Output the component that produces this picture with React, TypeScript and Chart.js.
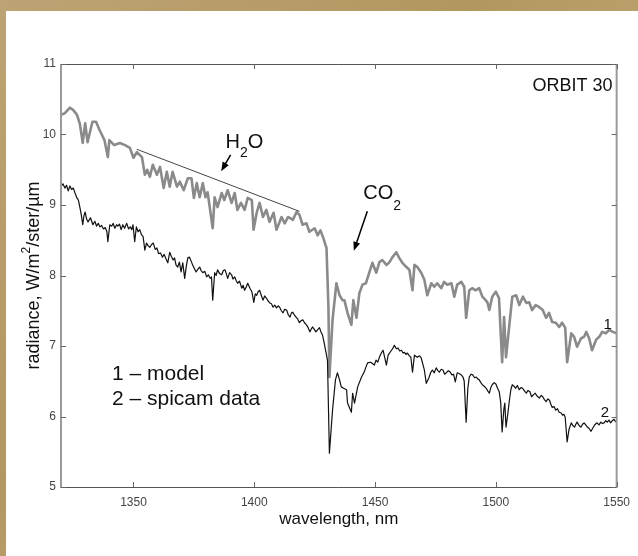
import React, { useEffect, useRef } from "react";
import { Chart, registerables } from "chart.js";

Chart.register(...registerables);

// ---------- data ----------
const X_MIN = 1320;
const X_MAX = 1550;
const Y_MIN = 5;
const Y_MAX = 11;
const X_TICKS = [1350, 1400, 1450, 1500, 1550];
const Y_TICKS = [5, 6, 7, 8, 9, 10, 11];

// curve 1 – model
const MODEL_WL = [
  1320, 1321.5, 1323.7, 1325, 1326.6, 1327.8, 1329, 1330, 1331, 1333, 1334.5, 1336, 1338, 1339.4, 1340, 1342,
  1344.4, 1346.5, 1348.5, 1350, 1351.4, 1353.5, 1354.7, 1355.7, 1356.8, 1358, 1359.7, 1361, 1362.5, 1363.8, 1365,
  1366.2, 1368, 1369.2, 1370.8, 1372.5, 1374, 1375, 1376.2, 1377.4, 1378.7, 1379.8, 1380.7, 1382.8, 1383.6, 1384.8,
  1386.5, 1387.6, 1389, 1390.6, 1391.9, 1393, 1394.5, 1396, 1397.3, 1399, 1399.7, 1401, 1402.2, 1403.6, 1405, 1406.3,
  1408, 1409.2, 1411.3, 1412.6, 1414, 1416, 1417.5, 1418.7, 1420, 1421.6, 1422.8, 1425, 1426.2, 1427.4, 1428.6,
  1429.5, 1429.9, 1430.7, 1431.1, 1432.4, 1434, 1435.3, 1436.5, 1437.3, 1438.6, 1440.2, 1441, 1442.3, 1443.5,
  1444.8, 1446.2, 1447.6, 1448.9, 1450.5, 1451.8, 1453, 1454.7, 1456, 1457.2, 1458.8, 1460, 1461.3, 1463, 1464.2,
  1465.5, 1466.3, 1467.5, 1469.1, 1470.4, 1471.6, 1473.3, 1474.5, 1475.7, 1477.4, 1478.6, 1479.9, 1481.6, 1482.8,
  1484, 1485.7, 1486.9, 1487.7, 1489, 1490.2, 1491.6, 1493.1, 1494.4, 1495.5, 1496.5, 1497.3, 1498.5, 1500, 1501.3,
  1502.6, 1503.4, 1504.2, 1505.5, 1506.8, 1508.4, 1509.7, 1511.2, 1512.6, 1513.8, 1515, 1516.5, 1518, 1519.4,
  1520.8, 1522, 1523.3, 1524.8, 1526.2, 1527.4, 1528.7, 1529.5, 1531.2, 1532.4, 1533.6, 1535.3, 1536.5, 1537.4,
  1538.6, 1539.8, 1541.5, 1542.8, 1544, 1545.5, 1546.9, 1548.4, 1550,
];
const MODEL_RAD = [
  10.28, 10.3, 10.38, 10.35, 10.28, 10.15, 9.88, 10.16, 9.89, 10.18, 10.18, 10.06, 9.92, 9.68, 9.92, 9.85,
  9.88, 9.85, 9.81, 9.67, 9.75, 9.68, 9.43, 9.5, 9.4, 9.57, 9.43, 9.54, 9.24, 9.47, 9.26,
  9.47, 9.26, 9.33, 9.21, 9.38, 9.38, 9.1, 9.31, 9.11, 9.31, 9.11, 9.18, 8.67, 9.11, 8.97,
  9.17, 9.07, 9.21, 9.03, 9.17, 8.93, 9.03, 8.93, 9.1, 9.07, 8.65, 8.89, 9.03, 8.83, 8.93, 8.76,
  8.89, 8.65, 8.83, 8.74, 8.83, 8.79, 8.9, 8.86, 8.72, 8.74, 8.62, 8.67, 8.57, 8.64, 8.53,
  8.43, 8.39, 7.55, 6.56, 7.37, 7.89, 7.72, 7.65, 7.65, 7.47, 7.3, 7.65, 7.4, 7.75,
  7.87, 7.89, 8.04, 8.18, 8.04, 8.19, 8.22, 8.15, 8.19, 8.26, 8.33, 8.25, 8.18, 8.12, 8.08,
  7.79, 8.15, 8.12, 8.04, 7.94, 7.72, 7.89, 7.84, 7.89, 7.82, 7.91, 7.87, 7.89, 7.7,
  7.87, 7.91, 7.84, 7.4, 7.79, 7.82, 7.79, 7.82, 7.7, 7.66, 7.62, 7.51, 7.7, 7.77, 7.68,
  6.77, 7.41, 6.84, 7.27, 7.7, 7.72, 7.58, 7.7, 7.61, 7.62, 7.51, 7.58, 7.55, 7.51,
  7.4, 7.47, 7.34, 7.33, 7.27, 7.33, 7.26, 6.77, 7.18, 7.13, 6.99, 7.11, 7.13, 7.2,
  7.11, 6.94, 7.09, 7.13, 7.2, 7.18, 7.23, 7.2, 7.18,
];

// curve 2 – spicam data
const DATA_WL = [
  1320, 1320.8, 1321.6, 1322.3, 1323, 1323.7, 1324.4, 1325.1, 1325.8, 1326.6, 1327.2, 1327.8, 1328.4, 1329, 1329.5,
  1330, 1330.6, 1331.2, 1332.2, 1333.2, 1334, 1334.7, 1335.4, 1336.1, 1336.8, 1337.6, 1338.3, 1339, 1339.4, 1340.2,
  1341, 1341.6, 1342.3, 1343, 1343.5, 1344.2, 1344.9, 1345.6, 1346.3, 1347.2, 1348, 1348.7, 1349.3, 1349.8, 1350.5,
  1351.2, 1351.9, 1352.6, 1353.3, 1354, 1354.7, 1355.4, 1356.1, 1356.8, 1357.5, 1358.2, 1359, 1359.7, 1360.4, 1361.2,
  1362, 1362.7, 1363.4, 1364.2, 1365, 1365.7, 1366.4, 1367, 1367.6, 1368.3, 1369, 1369.7, 1370.4, 1371.2, 1371.9,
  1372.5, 1373.2, 1373.9, 1374.5, 1375.2, 1375.9, 1376.7, 1377.4, 1378, 1378.7, 1379.5, 1380.3, 1381, 1381.7, 1382.3,
  1382.8, 1383.6, 1384.2, 1384.8, 1385.6, 1386.5, 1387.2, 1387.9, 1388.5, 1389, 1389.8, 1390.6, 1391.2, 1391.9,
  1392.5, 1393.1, 1393.9, 1394.8, 1395.4, 1396, 1396.7, 1397.3, 1398.2, 1399, 1399.8, 1400.4, 1401, 1401.6, 1402.2,
  1402.9, 1403.6, 1404.3, 1405, 1405.7, 1406.4, 1407.1, 1407.8, 1408.5, 1409.2, 1409.9, 1410.5, 1411.2, 1411.9,
  1412.6, 1413.4, 1414.1, 1414.8, 1415.4, 1415.9, 1416.6, 1417.3, 1418, 1418.7, 1419.4, 1420.1, 1420.8, 1421.6,
  1422.3, 1423, 1423.6, 1424.1, 1424.8, 1425.5, 1426.2, 1427, 1427.6, 1428.2, 1428.9, 1429.5, 1430.3, 1431.1,
  1432.4, 1433.6, 1434.4, 1435.3, 1436, 1437, 1438.2, 1438.6, 1440.2, 1440.7, 1441.5, 1442.8, 1444.4, 1445.5,
  1446.2, 1446.9, 1448.2, 1449.7, 1450.4, 1451.1, 1451.9, 1452.6, 1453.3, 1454.7, 1455.4, 1456.8, 1457.4, 1458,
  1458.8, 1459.5, 1460.2, 1460.9, 1461.6, 1462.2, 1462.8, 1463.4, 1464.2, 1464.8, 1465.5, 1466.3, 1467.5, 1468.4,
  1469.1, 1469.8, 1470.4, 1471.2, 1472.3, 1473, 1473.7, 1474.5, 1475.3, 1476, 1476.6, 1477.4, 1478.1, 1478.8,
  1479.5, 1480.3, 1481.1, 1481.8, 1482.5, 1483.2, 1484, 1484.8, 1485.7, 1486.4, 1486.9, 1487.7, 1488.4, 1489,
  1489.7, 1490.4, 1491.2, 1491.9, 1492.6, 1493.1, 1493.8, 1494.4, 1495.2, 1496, 1496.7, 1497.3, 1497.9, 1498.5,
  1499.3, 1500, 1500.7, 1501.4, 1502, 1502.6, 1503.3, 1503.7, 1504.2, 1505, 1505.6, 1506.2, 1506.8, 1507.5, 1508.2,
  1508.9, 1509.7, 1510.4, 1511.1, 1511.9, 1512.6, 1513.3, 1514.1, 1514.8, 1515.6, 1516.3, 1517.1, 1518, 1518.8,
  1519.4, 1520.1, 1520.8, 1521.5, 1522.2, 1522.8, 1523.3, 1524.1, 1524.8, 1525.5, 1526.2, 1527, 1527.6, 1528.2,
  1528.7, 1529.5, 1530.3, 1531.2, 1531.9, 1532.6, 1533.1, 1533.6, 1534.5, 1535.2, 1535.9, 1536.5, 1537.2, 1537.9,
  1538.6, 1539.4, 1540.2, 1540.9, 1541.5, 1541.9, 1542.7, 1543.4, 1544.1, 1544.8, 1545.5, 1546.1, 1546.8, 1547.5,
  1548.2, 1548.9, 1549.5, 1550,
];
const DATA_RAD = [
  9.26, 9.3, 9.24, 9.28, 9.2, 9.27, 9.22, 9.24, 9.17, 9.1, 9.07, 8.97, 8.86, 8.72, 8.85,
  8.9, 8.8, 8.76, 8.82, 8.72, 8.77, 8.7, 8.74, 8.69, 8.71, 8.66, 8.68, 8.62, 8.48, 8.72,
  8.7, 8.74, 8.67, 8.72, 8.7, 8.73, 8.65, 8.72, 8.67, 8.74, 8.66, 8.69, 8.65, 8.72, 8.48,
  8.69, 8.62, 8.65, 8.58, 8.55, 8.36, 8.46, 8.42, 8.4, 8.44, 8.46, 8.37, 8.39, 8.31, 8.32,
  8.26, 8.3, 8.24, 8.18, 8.33, 8.27, 8.22, 8.25, 8.15, 8.12, 8.19, 8.05, 8.18, 7.96, 8.14,
  8.25, 8.26, 8.2, 8.15, 8.1, 8.05, 8.09, 8.12, 8.07, 8.04, 8.06, 7.98, 8.01, 7.96, 7.98,
  7.65, 8.04, 8.0, 8.08, 8.03, 8.01, 8.07, 8.08, 8.02, 7.96, 8.04, 8.01, 7.95, 7.98,
  7.93, 7.89, 7.92, 7.82, 7.86, 7.79, 7.84, 7.89, 7.82, 7.77, 7.62, 7.74, 7.72, 7.77, 7.79,
  7.72, 7.65, 7.71, 7.68, 7.64, 7.61, 7.6, 7.55, 7.58, 7.54, 7.57, 7.55, 7.5, 7.47,
  7.52, 7.51, 7.44, 7.41, 7.47, 7.48, 7.44, 7.41, 7.38, 7.33, 7.36, 7.37, 7.33, 7.3,
  7.26, 7.2, 7.24, 7.27, 7.24, 7.2, 7.23, 7.26, 7.2, 7.16, 7.05, 6.94, 6.8, 5.48,
  6.09, 6.52, 6.62, 6.52, 6.42, 6.4, 6.38, 6.19, 6.06, 6.33, 6.19, 6.42, 6.56, 6.63,
  6.7, 6.76, 6.77, 6.73, 6.8, 6.77, 6.85, 6.9, 6.94, 6.73, 6.87, 6.94, 6.97, 7.01,
  6.96, 6.97, 6.93, 6.94, 6.9, 6.91, 6.88, 6.9, 6.86, 6.84, 6.63, 6.87, 6.84, 6.86,
  6.83, 6.74, 6.66, 6.47, 6.55, 6.62, 6.66, 6.62, 6.69, 6.65, 6.63, 6.67, 6.66, 6.6,
  6.62, 6.65, 6.63, 6.59, 6.6, 6.49, 6.62, 6.61, 6.59, 6.56, 6.5, 5.92, 6.4, 6.56,
  6.6, 6.59, 6.55, 6.56, 6.53, 6.52, 6.48, 6.45, 6.43, 6.4, 6.36, 6.33, 6.41, 6.45,
  6.48, 6.46, 6.4, 6.35, 6.2, 5.78, 6.1, 6.19, 5.85, 6.05, 6.23, 6.38, 6.45, 6.43, 6.4,
  6.44, 6.38, 6.41, 6.4, 6.36, 6.33, 6.37, 6.35, 6.28, 6.31, 6.33, 6.29, 6.26, 6.3,
  6.28, 6.24, 6.21, 6.25, 6.23, 6.17, 6.13, 6.14, 6.09, 6.11, 6.06, 6.05, 6.02, 6.03,
  5.99, 5.64, 5.82, 5.91, 5.87, 5.85, 5.89, 5.92, 5.87, 5.85, 5.89, 5.91, 5.88, 5.85,
  5.83, 5.79, 5.84, 5.88, 5.9, 5.91, 5.88, 5.92, 5.9, 5.91, 5.94, 5.92, 5.95, 5.91,
  5.94, 5.96, 5.93, 5.92,
];

// thin reference line over the H2O band
const H2O_LINE_WL = [1351.4, 1418.7];
const H2O_LINE_RAD = [9.79, 8.91];

const X_TITLE = "wavelength, nm";
const Y_TITLE_PARTS = ["radiance, W/m", "2", "/ster/\u00b5m"];
const ORBIT_LABEL = "ORBIT 30";
const LEGEND_LINES = ["1 \u2013 model", "2 \u2013 spicam data"];

const FONT = "'Liberation Sans', Arial, Helvetica, sans-serif";

type Part = { text: string; size: number; dy?: number };

function drawRich(ctx: CanvasRenderingContext2D, parts: Part[], x: number, y: number, align: "left" | "center" | "right") {
  let total = 0;
  const widths = parts.map((p) => {
    ctx.font = `${p.size}px ${FONT}`;
    const w = ctx.measureText(p.text).width;
    total += w;
    return w;
  });
  let cx = align === "left" ? x : align === "center" ? x - total / 2 : x - total;
  ctx.textAlign = "left";
  parts.forEach((p, i) => {
    ctx.font = `${p.size}px ${FONT}`;
    ctx.fillText(p.text, cx, y + (p.dy || 0));
    cx += widths[i];
  });
}

function arrow(ctx: CanvasRenderingContext2D, x1: number, y1: number, x2: number, y2: number) {
  const ang = Math.atan2(y2 - y1, x2 - x1);
  const len = 9;
  const half = 3.5;
  ctx.save();
  ctx.strokeStyle = "#000";
  ctx.fillStyle = "#000";
  ctx.lineWidth = 1.5;
  ctx.beginPath();
  ctx.moveTo(x1, y1);
  ctx.lineTo(x2 - Math.cos(ang) * len * 0.8, y2 - Math.sin(ang) * len * 0.8);
  ctx.stroke();
  ctx.beginPath();
  ctx.moveTo(x2, y2);
  ctx.lineTo(x2 - Math.cos(ang) * len + Math.sin(ang) * half, y2 - Math.sin(ang) * len - Math.cos(ang) * half);
  ctx.lineTo(x2 - Math.cos(ang) * len - Math.sin(ang) * half, y2 - Math.sin(ang) * len + Math.cos(ang) * half);
  ctx.closePath();
  ctx.fill();
  ctx.restore();
}

const decorPlugin = {
  id: "decor",
  afterDraw(chart: any) {
    const ctx: CanvasRenderingContext2D = chart.ctx;
    const { left, right, top, bottom } = chart.chartArea;
    const xs = chart.scales.x;
    const ys = chart.scales.y;
    const X = (v: number) => xs.getPixelForValue(v);
    const Y = (v: number) => ys.getPixelForValue(v);

    ctx.save();
    // box
    ctx.lineWidth = 1;
    ctx.strokeStyle = "#555";
    ctx.beginPath();
    ctx.moveTo(left, top + 0.5);
    ctx.lineTo(right, top + 0.5);
    ctx.moveTo(left, bottom + 0.5);
    ctx.lineTo(right, bottom + 0.5);
    ctx.stroke();
    ctx.strokeStyle = "#9a9a9a";
    ctx.lineWidth = 2;
    ctx.beginPath();
    ctx.moveTo(left, top);
    ctx.lineTo(left, bottom + 1);
    ctx.moveTo(right, top);
    ctx.lineTo(right, bottom + 1);
    ctx.stroke();

    // inward ticks
    ctx.strokeStyle = "#666";
    ctx.lineWidth = 1;
    ctx.beginPath();
    X_TICKS.forEach((v) => {
      const px = Math.round(X(v)) + 0.5;
      ctx.moveTo(px, top);
      ctx.lineTo(px, top + 5);
      ctx.moveTo(px, bottom);
      ctx.lineTo(px, bottom - 5);
    });
    Y_TICKS.forEach((v) => {
      const py = Math.round(Y(v)) + 0.5;
      ctx.moveTo(left, py);
      ctx.lineTo(left + 5, py);
      ctx.moveTo(right, py);
      ctx.lineTo(right - 5, py);
    });
    ctx.stroke();

    ctx.fillStyle = "#111";
    ctx.textBaseline = "alphabetic";

    // x title
    ctx.font = `17px ${FONT}`;
    ctx.textAlign = "center";
    ctx.fillText(X_TITLE, (left + right) / 2, bottom + 37);

    // y title (rotated)
    ctx.save();
    ctx.translate(28, (top + bottom) / 2);
    ctx.rotate(-Math.PI / 2);
    ctx.textBaseline = "middle";
    drawRich(
      ctx,
      [
        { text: Y_TITLE_PARTS[0], size: 18 },
        { text: Y_TITLE_PARTS[1], size: 12, dy: -7 },
        { text: Y_TITLE_PARTS[2], size: 18 },
      ],
      0,
      0,
      "center"
    );
    ctx.restore();

    ctx.textBaseline = "alphabetic";
    // ORBIT 30
    ctx.font = `18px ${FONT}`;
    ctx.textAlign = "right";
    ctx.fillText(ORBIT_LABEL, X(1548.3), Y(10.62));

    // H2O
    drawRich(
      ctx,
      [
        { text: "H", size: 20 },
        { text: "2", size: 14, dy: 9 },
        { text: "O", size: 20 },
      ],
      X(1388.1),
      Y(9.81),
      "left"
    );
    arrow(ctx, X(1390.2), Y(9.71), X(1386.3), Y(9.48));

    // CO2
    drawRich(
      ctx,
      [
        { text: "CO", size: 20 },
        { text: "2", size: 14, dy: 11 },
      ],
      X(1445.1),
      Y(9.09),
      "left"
    );
    arrow(ctx, X(1446.8), Y(8.91), X(1441.2), Y(8.35));

    // curve labels
    ctx.font = `15px ${FONT}`;
    ctx.textAlign = "left";
    ctx.fillText("1", X(1544.6), Y(7.24));
    ctx.fillText("2", X(1543.4), Y(5.99));

    // legend text
    ctx.font = `21px ${FONT}`;
    ctx.fillText(LEGEND_LINES[0], X(1341.1), Y(6.52));
    ctx.fillText(LEGEND_LINES[1], X(1341.1), Y(6.16));

    ctx.restore();
  },
};

export default function App() {
  const ref = useRef<HTMLCanvasElement | null>(null);

  useEffect(() => {
    if (!ref.current) return;
    const chart = new Chart(ref.current, {
      type: "line",
      data: {
        datasets: [
          {
            label: "model",
            data: MODEL_WL.map((x, i) => ({ x, y: MODEL_RAD[i] })),
            borderColor: "#8a8a8a",
            borderWidth: 2.6,
            borderJoinStyle: "round",
            borderCapStyle: "round",
            pointRadius: 0,
            tension: 0,
            order: 2,
          },
          {
            label: "spicam data",
            data: DATA_WL.map((x, i) => ({ x, y: DATA_RAD[i] })),
            borderColor: "#111111",
            borderWidth: 1.2,
            borderJoinStyle: "round",
            pointRadius: 0,
            tension: 0,
            order: 1,
          },
          {
            label: "H2O continuum",
            data: H2O_LINE_WL.map((x, i) => ({ x, y: H2O_LINE_RAD[i] })),
            borderColor: "#444",
            borderWidth: 1,
            pointRadius: 0,
            order: 0,
          },
        ],
      },
      options: {
        animation: false,
        responsive: false,
        maintainAspectRatio: false,
        events: [],
        layout: { padding: { top: 53, right: 20, left: 0, bottom: 0 } },
        plugins: {
          legend: { display: false },
          tooltip: { enabled: false },
        },
        scales: {
          x: {
            type: "linear",
            min: X_MIN,
            max: X_MAX,
            afterBuildTicks: (s: any) => {
              s.ticks = X_TICKS.map((value) => ({ value }));
            },
            afterFit: (s: any) => {
              s.height = 69;
            },
            grid: { display: false, drawTicks: false },
            border: { display: false },
            ticks: {
              padding: 8,
              color: "#444",
              font: { family: FONT, size: 12 },
              maxRotation: 0,
              autoSkip: false,
              callback: (v: any) => String(v),
            },
          },
          y: {
            type: "linear",
            min: Y_MIN,
            max: Y_MAX,
            afterBuildTicks: (s: any) => {
              s.ticks = Y_TICKS.map((value) => ({ value }));
            },
            afterFit: (s: any) => {
              s.width = 55;
            },
            grid: { display: false, drawTicks: false },
            border: { display: false },
            ticks: {
              padding: 5,
              color: "#444",
              font: { family: FONT, size: 12 },
              autoSkip: false,
              callback: (v: any) => String(v),
            },
          },
        },
      },
      plugins: [decorPlugin],
    });
    return () => chart.destroy();
  }, []);

  return (
    <div
      style={{
        position: "absolute",
        left: 0,
        top: 0,
        width: 638,
        height: 556,
        background: "linear-gradient(135deg, #bda374 0%, #b39761 40%, #c2a877 70%, #ad9160 100%)",
        overflow: "hidden",
      }}
    >
      <div style={{ position: "absolute", left: 6, top: 11, width: 632, height: 545, background: "#fff" }}>
        <canvas ref={ref} width={632} height={545} style={{ display: "block", width: 632, height: 545 }} />
      </div>
    </div>
  );
}
